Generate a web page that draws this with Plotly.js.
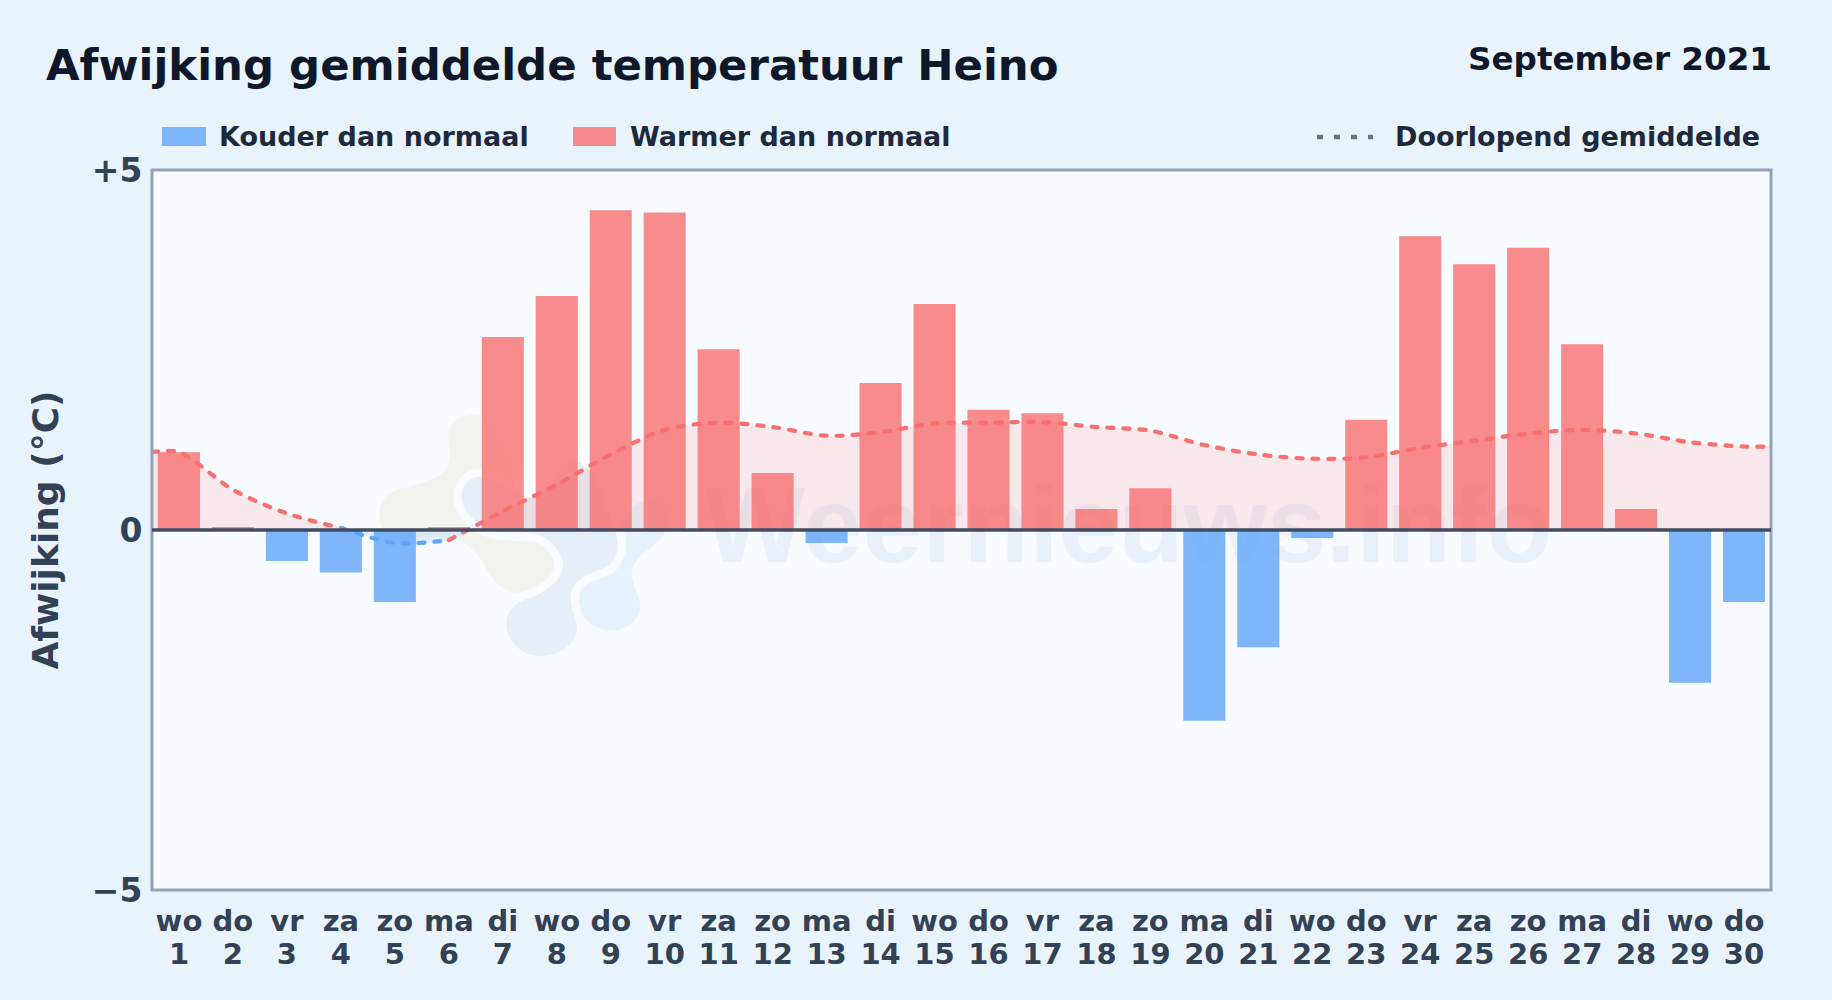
<!DOCTYPE html>
<html><head><meta charset="utf-8">
<script src="https://cdn.plot.ly/plotly-3.0.1.min.js"></script>
<style>html,body{margin:0;padding:0;background:#e9f3fc}#c{width:1832px;height:1000px}.js-line{stroke-linecap:round}</style>
</head><body><div id="c"></div>
<script>
const days=[1,2,3,4,5,6,7,8,9,10,11,12,13,14,15,16,17,18,19,20,21,22,23,24,25,26,27,28,29,30];
const weekdays=["wo","do","vr","za","zo","ma","di","wo","do","vr","za","zo","ma","di","wo","do","vr","za","zo","ma","di","wo","do","vr","za","zo","ma","di","wo","do"];
const deviation=[1.08,0.04,-0.43,-0.59,-1.0,0.04,2.68,3.25,4.44,4.41,2.51,0.79,-0.18,2.04,3.14,1.67,1.62,0.29,0.58,-2.65,-1.63,-0.11,1.53,4.08,3.69,3.92,2.58,0.29,-2.12,-1.0];
const runningX=[0.5,1,2,3,4,5,6,7,8,9,10,11,12,13,14,15,16,17,18,19,20,21,22,23,24,25,26,27,28,29,30,30.5];
const runningMean=[1.08,1.08,0.56,0.23,0.03,-0.18,-0.14,0.26,0.63,1.05,1.39,1.49,1.43,1.31,1.36,1.48,1.49,1.50,1.43,1.38,1.18,1.05,0.99,1.01,1.14,1.24,1.34,1.39,1.34,1.22,1.16,1.16];
const FONT='"DejaVu Sans", sans-serif';
const L=152,R=1771,T=170,B=890;
const px=x=>(x-L)/(R-L), py=y=>(B-y)/(B-T);
const cold=days.map((d,i)=>deviation[i]<0?i:-1).filter(i=>i>=0);
const warm=days.map((d,i)=>deviation[i]>=0?i:-1).filter(i=>i>=0);
const barBase={type:'bar',width:0.78,showlegend:false,hoverinfo:'x+y',xaxis:'x',yaxis:'y'};
const fillBase={type:'scatter',mode:'lines',x:runningX,y:runningMean,fill:'tozeroy',xaxis:'x',showlegend:false,hoverinfo:'skip'};
const lineSpec=c=>({color:c,width:4.2,dash:'6px,10px',shape:'spline',smoothing:0.9});
const seg=(a,b,c,name)=>({type:'scatter',mode:'lines',name,x:runningX.slice(a,b),y:runningMean.slice(a,b),xaxis:'x2',yaxis:'y4',showlegend:false,line:lineSpec(c)});
const traces=[
 {...barBase,name:'Kouder dan normaal',x:cold.map(i=>days[i]),y:cold.map(i=>deviation[i]),marker:{color:'rgba(96,165,250,0.8)',line:{width:0}}},
 {...barBase,name:'Warmer dan normaal',x:warm.map(i=>days[i]),y:warm.map(i=>deviation[i]),marker:{color:'rgba(248,113,113,0.8)',line:{width:0}}},
 {...fillBase,name:'Vulling boven nul',yaxis:'y2',line:{width:0,shape:'spline',smoothing:0.9},fillcolor:'rgba(248,113,113,0.135)'},
 {...fillBase,name:'Vulling onder nul',yaxis:'y3',line:{width:0,shape:'spline',smoothing:0.9},fillcolor:'rgba(96,165,250,0.15)'},
 seg(0,5,'#f87171','Doorlopend gemiddelde'),
 seg(4,7,'#60a5fa','Doorlopend gemiddelde (onder nul)'),
 seg(6,32,'#f87171','Doorlopend gemiddelde')
];
const bgSvg=`<svg xmlns="http://www.w3.org/2000/svg" viewBox="0 0 ${R-L} ${B-T}" width="${R-L}" height="${B-T}"><rect width="${R-L}" height="${B-T}" fill="#f8fbff"/><g transform="translate(${360-L} ${390-T}) scale(0.3333)">
<path fill="#f0f6ee" d="M340,75 C300,75 265,100 265,135 C265,170 280,200 260,235 C235,275 150,285 100,305 C60,320 50,370 65,410 C90,450 150,445 240,440 C300,440 340,470 370,520 C395,570 420,605 480,610 C540,612 585,570 582,515 C575,455 520,440 490,415 C480,400 500,330 480,280 C450,200 420,75 340,75Z"/>
<path fill="#e6f3fd" stroke="#f8fbff" stroke-width="50" paint-order="stroke" d="M655,600 C665,570 720,570 750,550 C800,520 790,460 780,420 C790,380 830,320 880,330 C930,350 935,410 900,450 C870,480 820,500 815,550 C815,590 845,620 840,660 C830,700 790,722 750,722 C700,720 660,680 655,640Z"/>
<path fill="#e6eff8" stroke="#f8fbff" stroke-width="50" paint-order="stroke" d="M355,260 C310,265 290,320 320,365 C345,400 380,420 420,425 L520,430 C570,440 600,480 610,520 C610,570 560,605 510,625 C460,635 435,670 440,715 C450,770 500,800 550,798 C610,795 660,750 650,700 C640,660 620,630 640,590 C660,555 710,545 740,530 C780,505 780,450 760,410 C740,350 720,290 700,260 C680,225 650,205 620,215 C590,230 590,290 540,320 C490,340 420,265 355,260Z"/>
</g></svg>`;
const note=(text,x,y,size,color,anchor)=>({text,xref:'paper',yref:'paper',x:px(x),y:py(y),xanchor:anchor||'left',yanchor:'middle',showarrow:false,font:{family:FONT,size,color,weight:700}});
const xBase={range:[0.5,30.5],tickmode:'array',tickvals:days,tickangle:0,showgrid:false,zeroline:false,ticks:'',tickfont:{family:FONT,size:29,color:'#334155',weight:700},fixedrange:true};
const hiddenLine={showline:true,linecolor:'rgba(0,0,0,0)',linewidth:3};
const layout={
 width:1832,height:1000,autosize:false,
 margin:{l:L,r:1832-R,t:T,b:1000-B,pad:0},
 paper_bgcolor:'#e9f3fc',plot_bgcolor:'rgba(0,0,0,0)',
 barmode:'overlay',showlegend:false,
 font:{family:FONT,color:'#334155'},
 title:{text:'Afwijking gemiddelde temperatuur Heino',x:46/1832,xref:'container',xanchor:'left',y:1-65/1000,yref:'container',yanchor:'middle',pad:{t:0,b:0,l:0,r:0},font:{family:FONT,size:43.4,color:'#0f172a',weight:700}},
 xaxis:{...xBase,ticktext:weekdays,...hiddenLine,ticklabelstandoff:3},
 xaxis2:{...xBase,overlaying:'x',anchor:'y',side:'bottom',ticktext:days.map(String),showline:false,ticklabelstandoff:44},
 yaxis:{domain:[0,1],range:[-5,5],tickmode:'array',tickvals:[5,0,-5],ticktext:['+5','0','\u22125'],showgrid:false,zeroline:false,...hiddenLine,ticks:'',ticklabelstandoff:12.6,tickfont:{family:FONT,size:33,color:'#334155',weight:700},title:{text:'Afwijking (\u00b0C)',standoff:22.6,font:{family:FONT,size:36,color:'#334155',weight:700}},fixedrange:true},
 yaxis2:{domain:[0.5,1],range:[0,5],visible:false,anchor:'x',fixedrange:true},
 yaxis3:{domain:[0,0.5],range:[-5,0],visible:false,anchor:'x',fixedrange:true},
 yaxis4:{overlaying:'y',range:[-5,5],visible:false,anchor:'x2',fixedrange:true},
 images:[{source:'data:image/svg+xml;charset=utf-8,'+encodeURIComponent(bgSvg),xref:'paper',yref:'paper',x:0,y:1,sizex:1,sizey:1,xanchor:'left',yanchor:'top',sizing:'stretch',layer:'below',opacity:1}],
 shapes:[
  {type:'rect',layer:'below',xref:'paper',yref:'paper',x0:px(690),x1:px(1566),y0:py(567),y1:py(462),fillcolor:'rgba(0,0,0,0)',line:{width:0},label:{text:'Weernieuws.info',textposition:'middle center',font:{family:'"Liberation Sans", sans-serif',size:107,weight:700,color:'rgba(90,140,210,0.09)'}}},
  {type:'rect',layer:'above',xref:'paper',yref:'paper',x0:0,x1:1,y0:0,y1:1,fillcolor:'rgba(0,0,0,0)',line:{color:'#94a3b8',width:3}},
  {type:'line',layer:'above',xref:'paper',yref:'y',x0:0,x1:1,y0:0,y1:0,line:{color:'#3f4d63',width:3.6}},
  {type:'rect',layer:'above',xref:'paper',yref:'paper',x0:px(162),x1:px(206),y0:py(146),y1:py(127),fillcolor:'rgba(96,165,250,0.8)',line:{width:0}},
  {type:'rect',layer:'above',xref:'paper',yref:'paper',x0:px(573),x1:px(616),y0:py(146),y1:py(127),fillcolor:'rgba(248,113,113,0.8)',line:{width:0}},
  {type:'line',layer:'above',xref:'paper',yref:'paper',x0:px(1317),x1:px(1373),y0:py(137),y1:py(137),line:{color:'#64748b',width:4.5,dash:'6px,11px'}}
 ],
 annotations:[
  note('September 2021',1774,59,32.6,'#0f172a','right'),
  note('Kouder dan normaal',216.7,137,27,'#1e293b'),
  note('Warmer dan normaal',627.7,137,27,'#1e293b'),
  note('Doorlopend gemiddelde',1762,137,27,'#1e293b','right')
 ]
};
Plotly.newPlot('c',traces,layout,{displayModeBar:false,staticPlot:true});
</script></body></html>
